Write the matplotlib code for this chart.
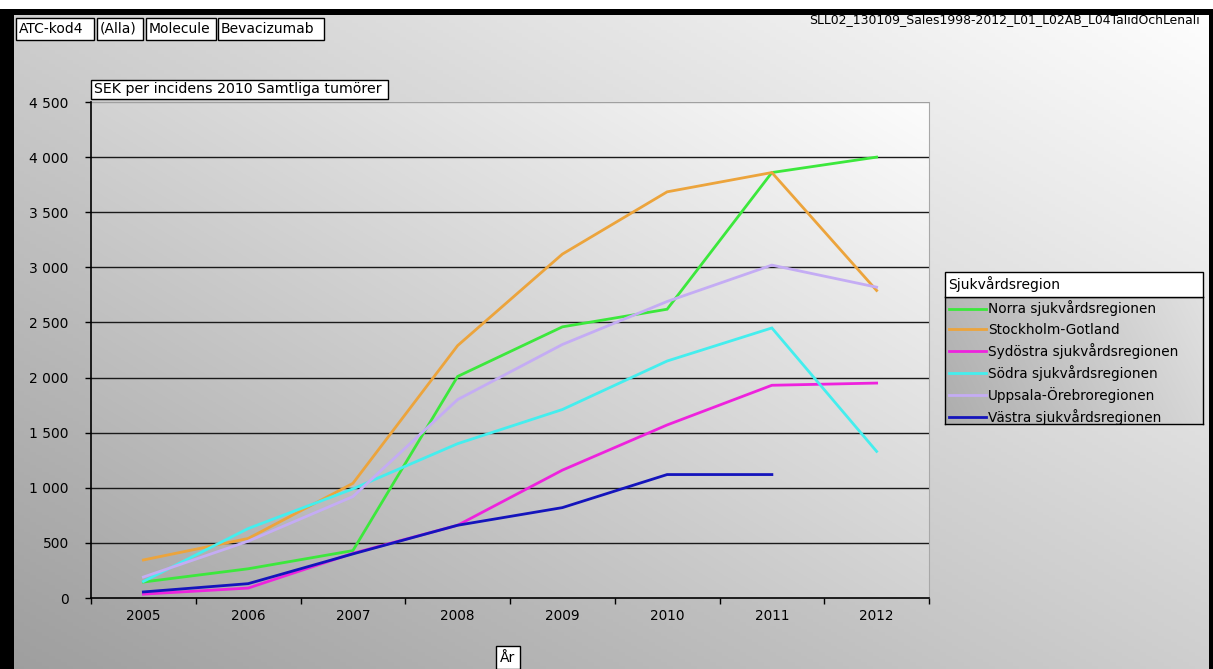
import numpy as np
import matplotlib
matplotlib.use("Agg")
import matplotlib.pyplot as plt
from matplotlib.patches import Rectangle
from matplotlib.ticker import FixedLocator, FuncFormatter

plt.rcParams['font.family'] = ['DejaVu Sans']

years = ["2005", "2006", "2007", "2008", "2009", "2010", "2011", "2012"]
regions = ["Norra sjukvårdsregionen", "Stockholm-Gotland", "Sydöstra sjukvårdsregionen",
           "Södra sjukvårdsregionen", "Uppsala-Örebroregionen", "Västra sjukvårdsregionen"]
norra = [145, 265, 430, 2010, 2460, 2620, 3860, 4000]
stockholm = [345, 540, 1040, 2290, 3120, 3685, 3860, 2790]
sydostra = [35, 90, 405, 660, 1160, 1570, 1930, 1950]
sodra = [150, 630, 990, 1400, 1710, 2150, 2450, 1330]
uppsala = [190, 515, 920, 1800, 2300, 2690, 3020, 2820]
vastra = [55, 130, 400, 660, 820, 1120, 1120, np.nan]
colors = ["#3ce83c", "#eca43c", "#ee22dd", "#44eeee", "#c4acf4", "#1414bc"]
series = [norra, stockholm, sydostra, sodra, uppsala, vastra]
yticks = [0, 500, 1000, 1500, 2000, 2500, 3000, 3500, 4000, 4500]

W, H = 1213, 669
fig = plt.figure(figsize=(W / 100, H / 100), dpi=100)

def rect(x0, y0, x1, y1):
    return [x0 / W, 1 - y1 / H, (x1 - x0) / W, (y1 - y0) / H]

def grad(lo, hi, n=200, wx=0.5):
    xs = np.linspace(0, 1, n)
    ys = np.linspace(1, 0, n)
    X, Y = np.meshgrid(xs, ys)
    t = wx * X + (1 - wx) * Y
    v = lo + (hi - lo) * t
    return np.dstack([v, v, v])

# background
bg = fig.add_axes([0, 0, 1, 1], zorder=-10)
bg.imshow(grad(0.62, 1.0), extent=[0, 1, 0, 1], aspect='auto', origin='upper')
bg.set_xlim(0, 1); bg.set_ylim(0, 1); bg.axis('off')
# white strip at very top and black frame
fig.patches.append(Rectangle((0, 1 - 9 / H), 1, 9 / H, transform=fig.transFigure, fc='white', ec='none', zorder=-5))
fig.patches.append(Rectangle((0, 1 - 15 / H), 1, 6 / H, transform=fig.transFigure, fc='black', ec='none', zorder=-5))
fig.patches.append(Rectangle((0, 0), 14 / W, 1 - 9 / H, transform=fig.transFigure, fc='black', ec='none', zorder=-5))
fig.patches.append(Rectangle((1209 / W, 0), 4 / W, 1 - 9 / H, transform=fig.transFigure, fc='black', ec='none', zorder=-5))

# main axes
ax = fig.add_axes(rect(91, 102, 929, 598))
ax.patch.set_alpha(0)
ax.imshow(grad(0.66, 0.99), extent=[0, 1, 0, 1], transform=ax.transAxes, aspect='auto',
          origin='upper', zorder=0)
x = np.arange(len(years))
for s, c, lab in zip(series, colors, regions):
    ax.plot(x, s, color=c, lw=2.0, label=lab, zorder=3, solid_joinstyle='miter')
ax.set_xlim(-0.5, len(years) - 0.5)
ax.set_ylim(0, 4500)
for yv in yticks[1:-1]:
    ax.axhline(yv, color='#1a1a1a', lw=1.0, zorder=2)
ax.axhline(4500, color='#a0a0a0', lw=1.0, zorder=2)
ax.yaxis.set_major_locator(FixedLocator(yticks))
ax.yaxis.set_major_formatter(FuncFormatter(lambda v, p: f"{int(v):,}".replace(",", " ")))
ax.xaxis.set_major_locator(FixedLocator(np.arange(len(years) + 1) - 0.5))
ax.xaxis.set_major_formatter(FuncFormatter(lambda v, p: ""))
ax.xaxis.set_minor_locator(FixedLocator(x))
ax.set_xticklabels(years, minor=True)
ax.tick_params(axis='x', which='major', direction='out', length=4, width=1, color='black')
ax.tick_params(axis='x', which='minor', length=0, pad=8, labelsize=9.8)
ax.tick_params(axis='y', direction='out', length=4, width=1, color='black', pad=12, labelsize=10)
for sp in ['left', 'bottom']:
    ax.spines[sp].set_color('black'); ax.spines[sp].set_linewidth(1.2)
ax.spines['right'].set_color('#a8a8a8')
ax.spines['top'].set_visible(False)

# header boxes
def box(x0, y0, x1, y1, txt, fs=10, fc='white', pad=3):
    fig.patches.append(Rectangle((x0 / W, 1 - y1 / H), (x1 - x0) / W, (y1 - y0) / H,
                                 transform=fig.transFigure, fc=fc, ec='black', lw=1, zorder=5))
    fig.text((x0 + pad) / W, 1 - ((y0 + y1) / 2) / H, txt, fontsize=fs, ha='left', va='center', zorder=6)

box(16, 18, 94, 40, "ATC-kod4")
box(97, 18, 143, 40, "(Alla)")
box(146, 18, 216, 40, "Molecule")
box(218, 18, 324, 40, "Bevacizumab")
box(91, 80, 388, 99, "SEK per incidens 2010 Samtliga tumörer", fs=10.2)
box(496, 646, 520, 669, "År", pad=4)
fig.text(1200 / W, 1 - 20 / H, "SLL02_130109_Sales1998-2012_L01_L02AB_L04TalidOchLenali",
         fontsize=8.9, ha='right', va='center')

# legend
box(945, 272, 1203, 297, "Sjukvårdsregion")
axl = fig.add_axes(rect(945, 297, 1203, 424))
axl.imshow(grad(0.68, 0.88, wx=0.8), extent=[0, 1, 0, 1], aspect='auto', origin='upper')
axl.set_xlim(0, 1); axl.set_ylim(0, 1)
axl.set_xticks([]); axl.set_yticks([])
for sp in axl.spines.values():
    sp.set_color('black'); sp.set_linewidth(1)
h, l = ax.get_legend_handles_labels()
axl.legend(h, l, loc='upper left', bbox_to_anchor=(0, 1), borderaxespad=0, frameon=False,
           fontsize=9.8, handlelength=2.75, handletextpad=0.15, labelspacing=0.45, borderpad=0.26)

fig.savefig("out.png", dpi=100)
